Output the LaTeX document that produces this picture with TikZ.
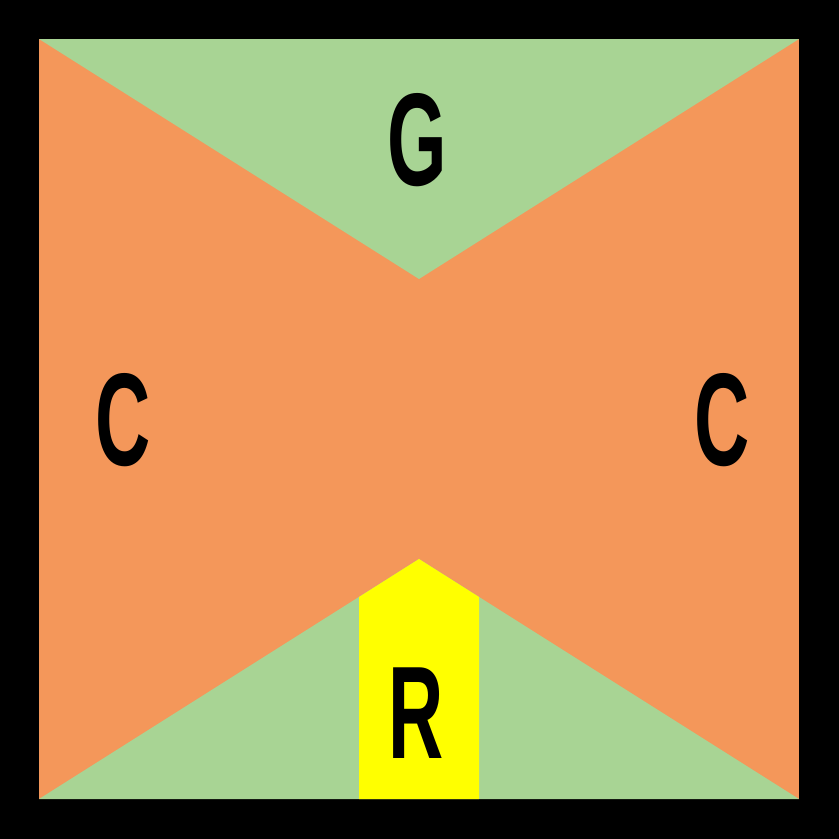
\documentclass[tikz,border=0pt]{standalone}
\usepackage{fontspec}
\setmainfont{Liberation Sans}
\usepackage{xcolor}
\definecolor{blockorange}{HTML}{F4975A}
\definecolor{blockgreen}{HTML}{A8D494}
\definecolor{blockyellow}{HTML}{FFFF00}
\newcommand{\narrowletter}[1]{\scalebox{0.58}[1]{#1}}

\begin{document}
\begin{tikzpicture}[x=0.01cm, y=-0.01cm,
          region/.style={draw=none},
          letter/.style={font=\fontsize{37.5}{40}\bfseries\selectfont,
                         inner sep=0pt, text=black}]
        \fill[black] (0,0) rectangle (839,839);
        \useasboundingbox (0,0) rectangle (839,839);
        % the field and its parts
        \fill[region, blockorange] (39,39) rectangle (799,799);
        \fill[region, blockgreen]  (39,39) -- (799,39) -- (419,279) -- cycle;
        \fill[region, blockgreen]  (39,799) -- (419,559) -- (799,799) -- cycle;
        \fill[region, blockyellow] (359,799) -- (359,597) -- (419,559)
                                   -- (479,597) -- (479,799) -- cycle;
        % labels
        \node[letter] (goal)  at (417,140) {\narrowletter{G}};
        \node[letter] (left)  at (123,420) {\narrowletter{C}};
        \node[letter] (right) at (722,420) {\narrowletter{C}};
        \node[letter] (run)   at (416,713) {\narrowletter{R}};
      \end{tikzpicture}
\end{document}
